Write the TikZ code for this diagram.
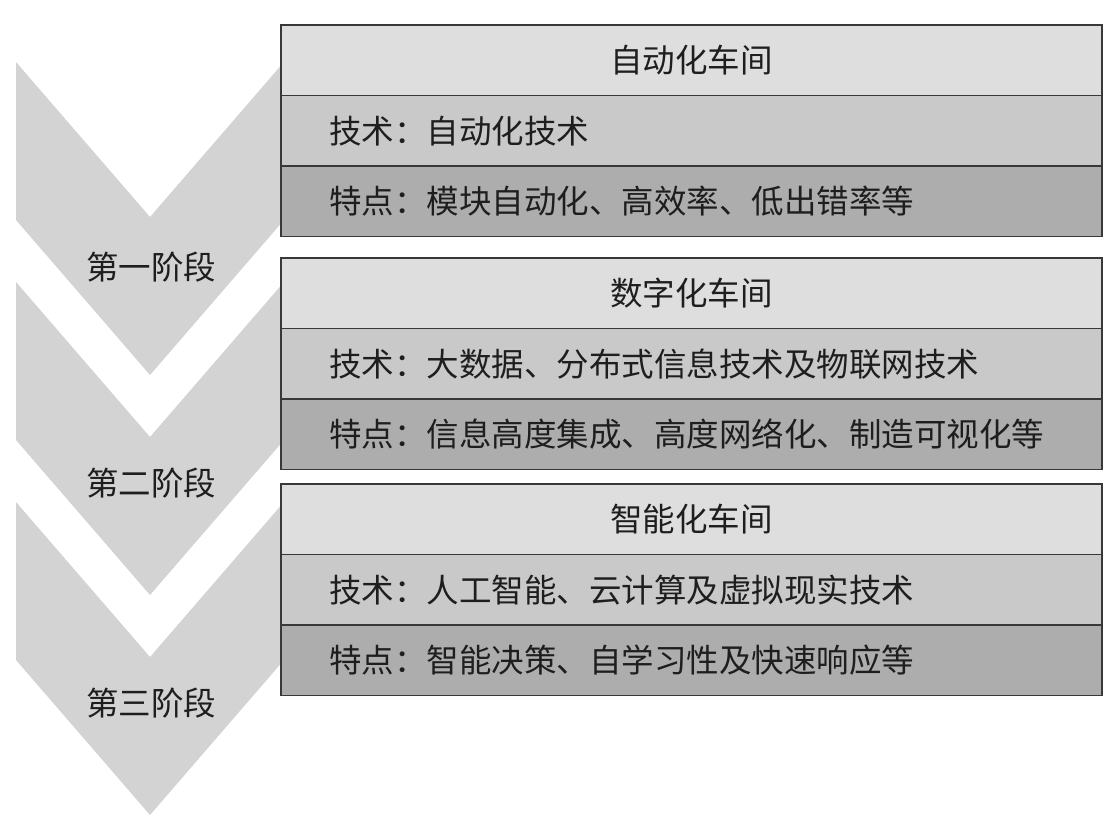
\documentclass[tikz,border=0pt]{standalone}
\usepackage{fontspec}
\newfontfamily\cjk{Noto Sans CJK SC}
\definecolor{chevgray}{HTML}{D3D3D3}
\definecolor{rowA}{HTML}{DEDEDE}
\definecolor{rowB}{HTML}{C9C9C9}
\definecolor{rowC}{HTML}{ADADAD}
\definecolor{edgecol}{HTML}{383838}
\definecolor{txtcol}{HTML}{1E1E1E}
\begin{document}
\begin{tikzpicture}[x=1pt,y=-1pt,
  chev/.style={fill=chevgray,draw=none},
  stage/.style={font=\cjk\fontsize{32.5}{32.5}\selectfont,text=txtcol,inner sep=0pt},
  rowbox/.style={draw=edgecol,line width=1.3pt,minimum height=70.5pt,text width=725pt,
    inner xsep=48pt,inner ysep=0pt,outer sep=0pt,anchor=north west,
    font=\cjk\fontsize{32.5}{32.5}\selectfont,text=txtcol,align=left},
  titlerow/.style={rowbox,fill=rowA,align=center},
  techrow/.style={rowbox,fill=rowB},
  featrow/.style={rowbox,fill=rowC}]
\useasboundingbox (0,0) rectangle (1119,831);
% chevrons
\foreach \T/\n in {62/1,282/2,502/3}{
  \fill[chev] (16,\T) -- (150,\T+155) -- (284,\T) -- (284,\T+158) -- (150,\T+313) -- (16,\T+158) -- cycle;
}
\node[stage] (s1) at (151,267) {第一阶段};
\node[stage] (s2) at (151,483) {第二阶段};
\node[stage] (s3) at (151,703) {第三阶段};
% box 1
\node[titlerow] (b1t) at (281,25) {自动化车间};
\node[techrow] (b1a) at (b1t.south west) {技术：自动化技术};
\node[featrow] (b1b) at (b1a.south west) {特点：模块自动化、高效率、低出错率等};
% box 2
\node[titlerow] (b2t) at (281,258) {数字化车间};
\node[techrow] (b2a) at (b2t.south west) {技术：大数据、分布式信息技术及物联网技术};
\node[featrow] (b2b) at (b2a.south west) {特点：信息高度集成、高度网络化、制造可视化等};
% box 3
\node[titlerow] (b3t) at (281,484) {智能化车间};
\node[techrow] (b3a) at (b3t.south west) {技术：人工智能、云计算及虚拟现实技术};
\node[featrow] (b3b) at (b3a.south west) {特点：智能决策、自学习性及快速响应等};
\end{tikzpicture}
\end{document}
